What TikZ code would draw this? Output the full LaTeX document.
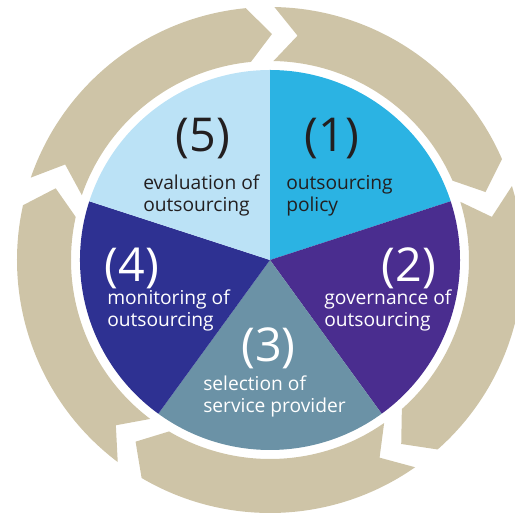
\documentclass[tikz,border=0pt]{standalone}
\usepackage{fontspec}
\setmainfont{Open Sans}
\usetikzlibrary{positioning}
\definecolor{ringtan}{HTML}{CEC4A7}
\definecolor{cyanpol}{HTML}{2BB3E3}
\definecolor{purplegov}{HTML}{4A2D8F}
\definecolor{slatesel}{HTML}{6B92A6}
\definecolor{navymon}{HTML}{2E3192}
\definecolor{lighteval}{HTML}{BBE2F6}
\definecolor{darktext}{HTML}{231F20}

\begin{document}
\begin{tikzpicture}[x=0.75pt,y=0.75pt,
  phasenum/.style={font=\fontsize{35}{35}\selectfont,inner sep=0pt,anchor=base},
  phasetext/.style={font=\fontsize{14.4}{16.5}\selectfont,inner sep=0pt,align=left,anchor=base west}]
\useasboundingbox (-270,-253) rectangle (245,260);
\clip (-270,-253) rectangle (245,260);

% outer ring of arrows
\fill[ringtan] (89:253) arc[start angle=89,end angle=23.5,radius=253] -- (17.5:226) -- (23.5:199) arc[start angle=23.5,end angle=89,radius=199] -- (83:226) -- cycle;
\fill[ringtan] (17:253) arc[start angle=17,end angle=-48.5,radius=253] -- (-54.5:226) -- (-48.5:199) arc[start angle=-48.5,end angle=17,radius=199] -- (11:226) -- cycle;
\fill[ringtan] (-55:253) arc[start angle=-55,end angle=-120.5,radius=253] -- (-126.5:226) -- (-120.5:199) arc[start angle=-120.5,end angle=-55,radius=199] -- (-61:226) -- cycle;
\fill[ringtan] (-127:253) arc[start angle=-127,end angle=-192.5,radius=253] -- (-198.5:226) -- (-192.5:199) arc[start angle=-192.5,end angle=-127,radius=199] -- (-133:226) -- cycle;
\fill[ringtan] (161:253) arc[start angle=161,end angle=95.5,radius=253] -- (89.5:226) -- (95.5:199) arc[start angle=95.5,end angle=161,radius=199] -- (155:226) -- cycle;

% pie
\fill[cyanpol] (0,0) -- (90:190) arc[start angle=90,end angle=18,radius=190] -- cycle;
\fill[purplegov] (0,0) -- (18:190) arc[start angle=18,end angle=-54,radius=190] -- cycle;
\fill[slatesel] (0,0) -- (-54:190) arc[start angle=-54,end angle=-126,radius=190] -- cycle;
\fill[navymon] (0,0) -- (-126:190) arc[start angle=-126,end angle=-198,radius=190] -- cycle;
\fill[lighteval] (0,0) -- (162:190) arc[start angle=162,end angle=90,radius=190] -- cycle;

% numbers and names (base = last line)
\node[phasenum,text=darktext] (N1) at (62,108) {(1)};
\node[phasetext,text=darktext] (T1) at (16,48) {outsourcing\\policy};
\node[phasenum,text=white] (N2) at (139,-22) {(2)};
\node[phasetext,text=white] (T2) at (54,-67) {governance of\\outsourcing};
\node[phasenum,text=white] (N3) at (-1.5,-102) {(3)};
\node[phasetext,text=white] (T3) at (-67,-153) {selection of\\service provider};
\node[phasenum,text=white] (N4) at (-138,-22) {(4)};
\node[phasetext,text=white] (T4) at (-163,-67) {monitoring of\\outsourcing};
\node[phasenum,text=darktext] (N5) at (-67,108) {(5)};
\node[phasetext,text=darktext] (T5) at (-127,48) {evaluation of\\outsourcing};

\end{tikzpicture}
\end{document}
